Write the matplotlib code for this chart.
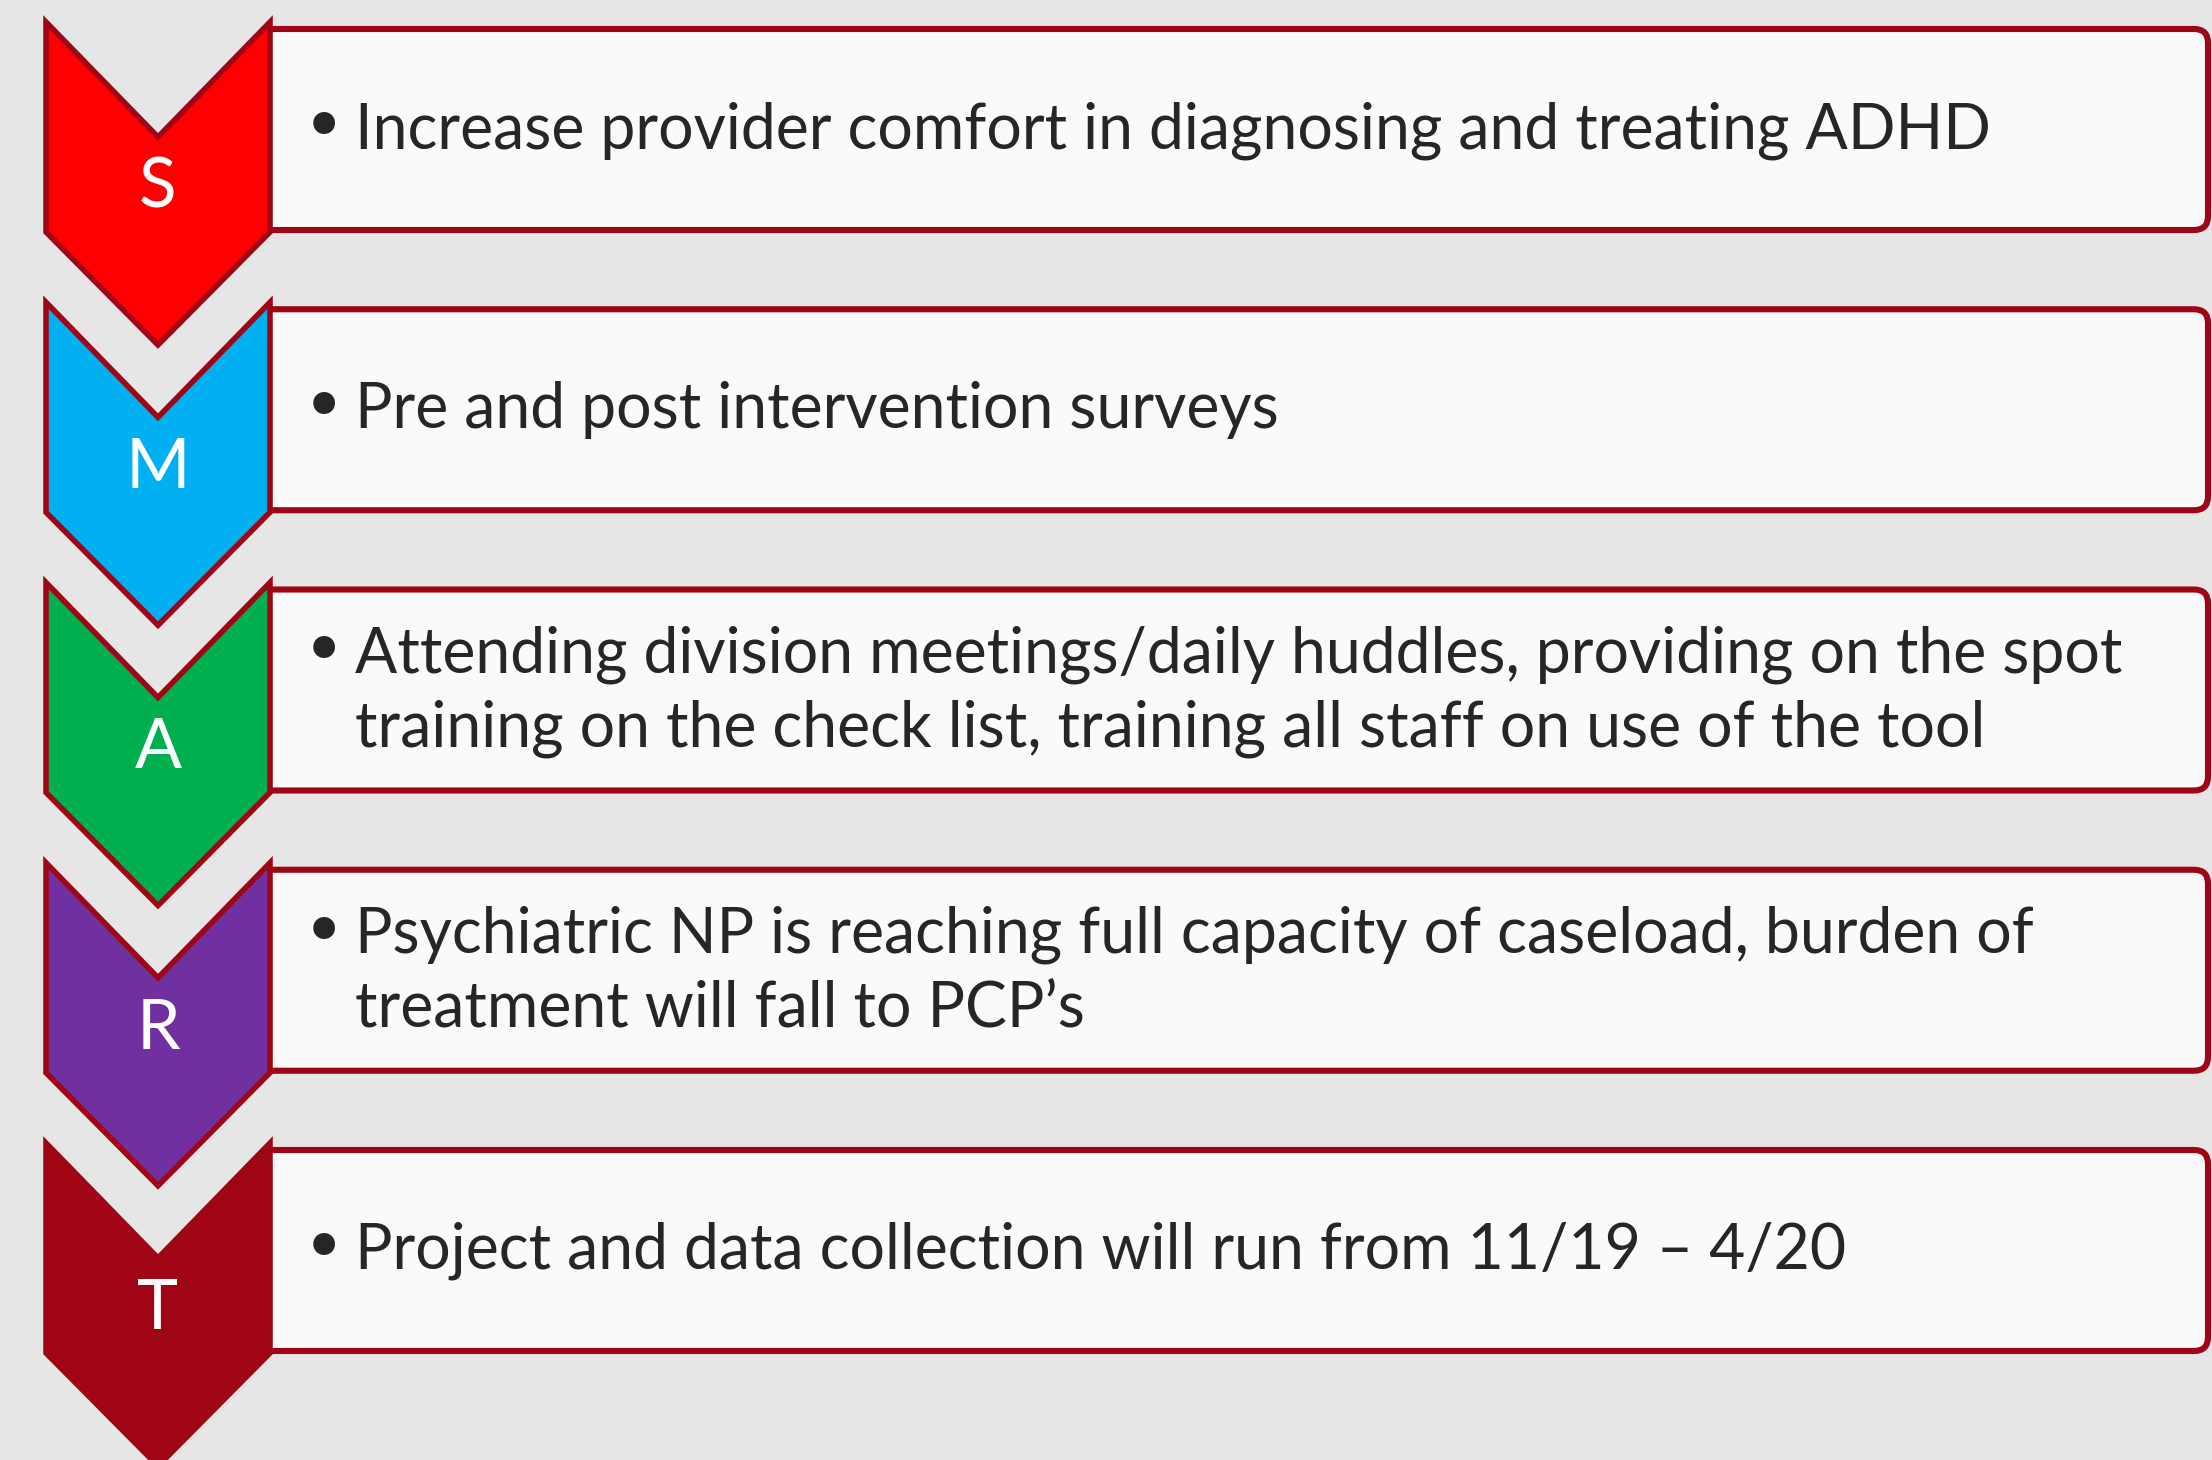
import matplotlib
matplotlib.use("Agg")
import matplotlib.pyplot as plt
from matplotlib.patches import Polygon, FancyBboxPatch, Rectangle

letters = ["S", "M", "A", "R", "T"]
chevron_colors = ["#FF0000", "#00B0F0", "#00B050", "#7030A0", "#A00515"]
items = [
    ["Increase provider comfort in diagnosing and treating ADHD"],
    ["Pre and post intervention surveys"],
    ["Attending division meetings/daily huddles, providing on the spot",
     "training on the check list, training all staff on use of the tool"],
    ["Psychiatric NP is reaching full capacity of caseload, burden of",
     "treatment will fall to PCP\u2019s"],
    ["Project and data collection will run from 11/19 \u2013 4/20"],
]

BORDER = "#9E0616"
BG = "#E6E6E6"
BOX = "#FAFAFA"
TXT = "#262626"
FONT = ["Lato", "DejaVu Sans"]

W, H = 2212, 1460
fig = plt.figure(figsize=(W / 100, H / 100), dpi=100, facecolor=BG)
ax = fig.add_axes([0, 0, 1, 1])
ax.set_xlim(0, W)
ax.set_ylim(H, 0)
ax.axis("off")
ax.set_facecolor(BG)

pitch = 280.25
top0 = 22
xl, xr = 46, 270
xc = (xl + xr) / 2

for i, (letter, col, lines) in enumerate(zip(letters, chevron_colors, items)):
    y0 = top0 + pitch * i
    # box (left side hidden under the chevron edge)
    box = FancyBboxPatch((xr - 60, y0 + 7), W + 4 - (xr - 60) - 8, 201,
                         boxstyle="round,pad=0,rounding_size=14",
                         facecolor=BOX, edgecolor=BORDER, linewidth=4.4, zorder=2)
    ax.add_patch(box)
    clip = Rectangle((xr, 0), W, H, transform=ax.transData)
    box.set_clip_path(clip)
    # chevron
    pts = [(xl, y0), (xc, y0 + 115), (xr, y0), (xr, y0 + 210),
           (xc, y0 + 323), (xl, y0 + 210)]
    ax.add_patch(Polygon(pts, closed=True, facecolor=col, edgecolor=BORDER,
                         linewidth=4.0, joinstyle="miter", zorder=3))
    ax.text(xc, y0 + 186, letter, color="white", fontsize=50, family=FONT,
            ha="center", va="baseline", zorder=4)
    # text
    if len(lines) == 1:
        bases = [y0 + 126]
    else:
        bases = [y0 + 90, y0 + 164]
    ax.text(302, bases[0] + 3, "\u2022", color=TXT, fontsize=54,
            family=["DejaVu Sans"], ha="left", va="baseline", zorder=4)
    for b, line in zip(bases, lines):
        ax.text(355, b, line, color=TXT, fontsize=45, family=FONT,
                ha="left", va="baseline", zorder=4)

fig.savefig("out.png", dpi=100, facecolor=BG)
